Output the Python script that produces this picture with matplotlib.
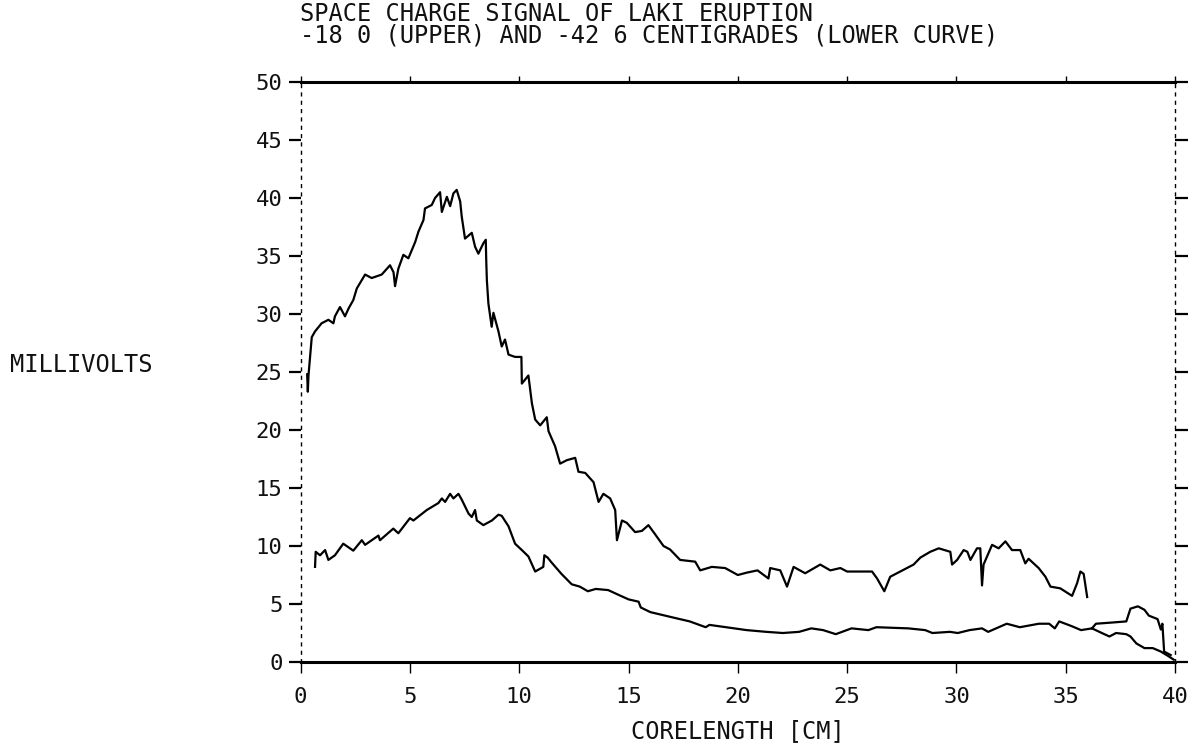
import matplotlib
matplotlib.use("Agg")
import matplotlib.pyplot as plt


# upper curve (-18.0 C)
upper_x = [0.30, 0.33, 0.36, 0.51, 0.66, 0.96, 1.27, 1.50, 1.57, 1.80, 2.03, 2.20, 2.41, 2.57,
           2.95, 3.25, 3.71, 4.09, 4.25, 4.32, 4.47, 4.70, 4.93, 5.24, 5.39, 5.62, 5.69, 6.00,
           6.15, 6.38, 6.46, 6.69, 6.84, 6.99, 7.14, 7.30, 7.37, 7.52, 7.83, 7.98, 8.13, 8.36,
           8.47, 8.49, 8.52, 8.59, 8.67, 8.74, 8.82, 9.05, 9.20, 9.35, 9.51, 9.81, 10.10, 10.12,
           10.42, 10.58, 10.73, 10.96, 11.26, 11.34, 11.64, 11.87, 12.18, 12.56, 12.71, 13.02,
           13.40, 13.63, 13.85, 14.16, 14.39, 14.47, 14.70, 14.92, 15.30, 15.61, 15.91, 16.22,
           16.60, 16.90, 17.36, 18.05, 18.28, 18.81, 19.42, 20.00, 20.40, 20.90, 21.40, 21.48,
           21.94, 22.25, 22.55, 23.08, 23.77, 24.23, 24.69, 25.00, 26.14, 26.37, 26.70, 26.97,
           27.43, 28.04, 28.35, 28.80, 29.19, 29.72, 29.80, 30.03, 30.33, 30.50, 30.64, 30.94,
           31.09, 31.17, 31.24, 31.63, 31.93, 32.24, 32.54, 32.92, 33.15, 33.30, 33.76, 34.07,
           34.30, 34.75, 35.29, 35.52, 35.67, 35.82, 35.98]
upper_y = [24.8, 23.3, 24.7, 28.0, 28.5, 29.2, 29.5, 29.2, 29.8, 30.6, 29.8, 30.5, 31.2, 32.2,
           33.4, 33.1, 33.4, 34.2, 33.6, 32.4, 33.9, 35.1, 34.8, 36.2, 37.1, 38.1, 39.1, 39.4,
           40.0, 40.5, 38.8, 40.1, 39.3, 40.4, 40.7, 39.7, 38.4, 36.5, 37.0, 35.8, 35.2, 36.1,
           36.4, 34.7, 32.9, 30.9, 29.8, 28.9, 30.1, 28.5, 27.2, 27.8, 26.5, 26.3, 26.3, 24.0,
           24.7, 22.3, 20.9, 20.4, 21.1, 19.9, 18.6, 17.1, 17.4, 17.6, 16.4, 16.3,
           15.5, 13.8, 14.5, 14.1, 13.1, 10.5, 12.2, 12.0, 11.2, 11.3, 11.8, 11.0,
           10.0, 9.7, 8.8, 8.65, 7.9, 8.2, 8.1, 7.5, 7.7, 7.9, 7.2, 8.1,
           7.9, 6.5, 8.2, 7.65, 8.4, 7.9, 8.1, 7.8, 7.8, 7.2, 6.1, 7.35,
           7.8, 8.4, 9.0, 9.5, 9.8, 9.5, 8.4, 8.8, 9.65, 9.5, 8.8, 9.8,
           9.8, 6.6, 8.4, 10.1, 9.8, 10.4, 9.65, 9.65, 8.5, 8.9, 8.1, 7.35,
           6.5, 6.35, 5.7, 6.8, 7.8, 7.6, 5.6]

# lower curve (-42.6 C)
lower_x = [0.66, 0.69, 0.89, 1.12, 1.27, 1.57, 1.95, 2.41, 2.80, 2.95, 3.56, 3.63, 4.24, 4.47,
           5.00, 5.16, 5.77, 6.30, 6.46, 6.61, 6.84, 6.99, 7.22, 7.37, 7.68, 7.83, 7.98, 8.06,
           8.36, 8.75, 9.05, 9.20, 9.51, 9.81, 10.12, 10.42, 10.73, 11.10, 11.15, 11.30, 11.47,
           11.93, 12.40, 12.77, 13.14, 13.50, 14.07, 14.53, 15.00, 15.46, 15.56, 16.00, 16.67,
           17.23, 17.80, 18.53, 18.70, 19.46, 20.40, 21.30, 22.06, 22.80, 23.36, 23.90, 24.48,
           25.20, 25.97, 26.34, 27.80, 28.57, 28.90, 29.70, 30.06, 30.60, 31.17, 31.45, 32.30,
           32.90, 33.77, 34.24, 34.50, 34.70, 35.26, 35.70, 36.20]
lower_y = [8.2, 9.5, 9.2, 9.65, 8.8, 9.2, 10.2, 9.6, 10.5, 10.1, 10.9, 10.5, 11.5, 11.1,
           12.4, 12.2, 13.1, 13.7, 14.1, 13.8, 14.5, 14.1, 14.5, 14.0, 12.8, 12.5, 13.1, 12.2,
           11.8, 12.2, 12.7, 12.6, 11.7, 10.2, 9.65, 9.1, 7.8, 8.2, 9.2, 9.0, 8.6,
           7.6, 6.7, 6.5, 6.1, 6.3, 6.2, 5.8, 5.4, 5.2, 4.7, 4.3, 4.0,
           3.75, 3.5, 3.0, 3.2, 3.0, 2.75, 2.6, 2.5, 2.6, 2.9, 2.75, 2.4,
           2.9, 2.75, 3.0, 2.9, 2.75, 2.5, 2.6, 2.5, 2.75, 2.9, 2.6, 3.3,
           3.0, 3.3, 3.3, 2.9, 3.5, 3.1, 2.75, 2.9]

# the lower trace splits in two near the end of the core
branch_a_x = [36.20, 36.38, 37.10, 37.77, 37.96, 38.30, 38.60, 38.80, 39.20, 39.35, 39.42, 39.50, 39.80]
branch_a_y = [2.9, 3.3, 3.4, 3.5, 4.6, 4.8, 4.5, 4.0, 3.7, 2.8, 3.3, 0.9, 0.6]
branch_b_x = [36.20, 36.65, 37.00, 37.30, 37.77, 37.96, 38.23, 38.60, 38.98, 39.35, 39.70, 39.94]
branch_b_y = [2.9, 2.5, 2.2, 2.5, 2.4, 2.2, 1.6, 1.2, 1.2, 0.9, 0.5, 0.2]

x_ticks = [0, 5, 10, 15, 20, 25, 30, 35, 40]
y_ticks = [0, 5, 10, 15, 20, 25, 30, 35, 40, 45, 50]

title_1 = "SPACE CHARGE SIGNAL OF LAKI ERUPTION"
title_2 = "-18 0 (UPPER) AND -42 6 CENTIGRADES (LOWER CURVE)"
x_label = "CORELENGTH [CM]"
y_label = "MILLIVOLTS"


def main():
    plt.rcParams['font.family'] = ['DejaVu Sans Mono']
    ink = '#111111'

    fig = plt.figure(figsize=(12.01, 7.44), dpi=100)
    ax = fig.add_axes([0.2503, 0.1102, 0.7281, 0.7796])

    for xs, ys in [(upper_x, upper_y), (lower_x, lower_y),
                   (branch_a_x, branch_a_y), (branch_b_x, branch_b_y)]:
        ax.plot(xs, ys, color='black', lw=1.6)

    ax.set_xlim(0, 40)
    ax.set_ylim(0, 50)

    # plotter look: heavy top/bottom, dotted sides
    for side in ['top', 'bottom']:
        ax.spines[side].set_linewidth(2.2)
    for side in ['left', 'right']:
        ax.spines[side].set_linestyle((0, (2, 4)))
        ax.spines[side].set_linewidth(1.0)

    ax.set_xticks(x_ticks)
    ax.set_yticks(y_ticks)
    ax.set_xticklabels([str(v) for v in x_ticks])
    ax.set_yticklabels([str(v) for v in y_ticks])

    ax.tick_params(axis='y', which='both', direction='out', left=True, right=True,
                   length=9, width=1.6, labelsize=16, pad=4, labelcolor=ink)
    ax.tick_params(axis='x', which='both', direction='out', bottom=True, top=True,
                   length=8, width=1.0, labelsize=16, pad=10, labelcolor=ink)
    for t in ax.xaxis.get_major_ticks():
        t.tick2line.set_markersize(4)

    fig.text(300 / 1201, 1 - 14 / 744, title_1, fontsize=17, va='center', ha='left', color=ink)
    fig.text(300 / 1201, 1 - 36 / 744, title_2, fontsize=17, va='center', ha='left', color=ink)
    fig.text(10 / 1201, 1 - 365 / 744, y_label, fontsize=17, va='center', ha='left', color=ink)
    fig.text(738 / 1201, 1 - 731 / 744, x_label, fontsize=17, va='center', ha='center', color=ink)

    fig.savefig('out.png', dpi=100)


if __name__ == "__main__":
    main()
